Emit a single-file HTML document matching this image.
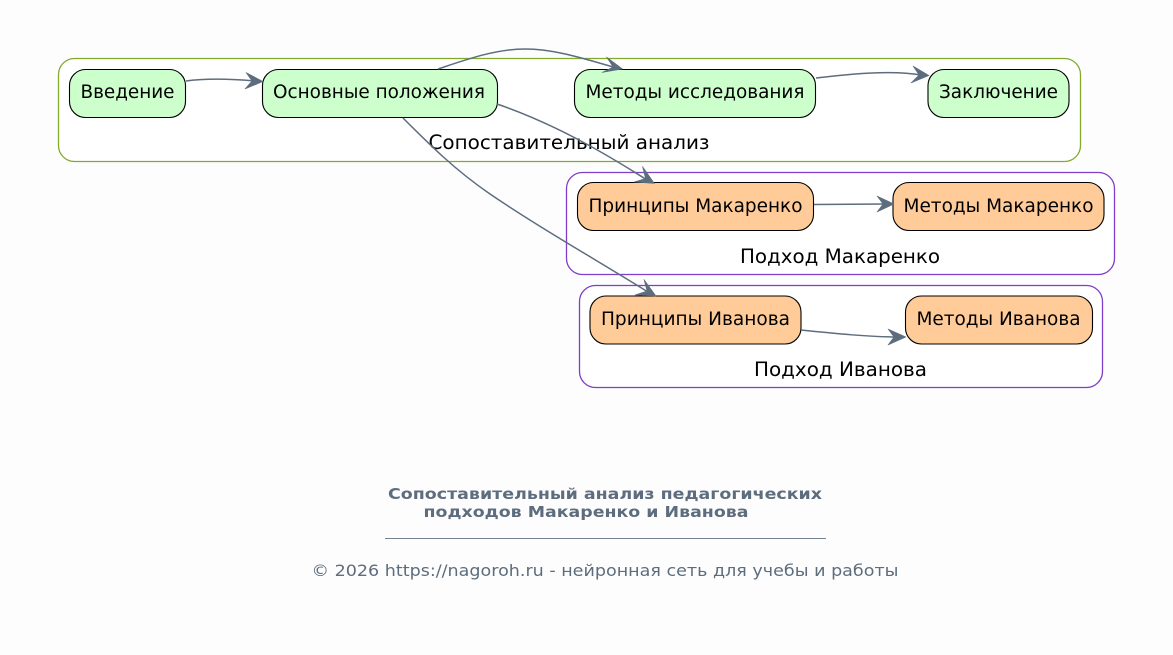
<!DOCTYPE html>
<html><head><meta charset="utf-8"><style>
html,body{margin:0;padding:0;background:#fdfdfd;overflow:hidden;}
svg{display:block;}
text{font-family:"DejaVu Sans","Liberation Sans",sans-serif;}
.n{font-size:18.200px;fill:#000;}
.c{font-size:19.200px;fill:#000;}
.e{fill:none;stroke:#5d6d7e;stroke-width:1.500;}
.a{fill:#5d6d7e;stroke:#5d6d7e;stroke-width:0.600;stroke-linejoin:round;}
</style></head><body>
<svg width="1173" height="655" viewBox="0 0 1173 655" xmlns="http://www.w3.org/2000/svg">
<rect width="1173" height="655" fill="#fdfdfd"/>
<rect x="58.500" y="58.500" width="1022" height="103" rx="16" fill="#fff" stroke="#82ab2e" stroke-width="1.300"/>
<rect x="566.500" y="172.500" width="548" height="102" rx="16" fill="#fff" stroke="#7c3fc9" stroke-width="1.300"/>
<rect x="579.500" y="285.500" width="523" height="102" rx="16" fill="#fff" stroke="#7c3fc9" stroke-width="1.300"/>
<text class="c" x="569" y="149" text-anchor="middle" textLength="281" lengthAdjust="spacingAndGlyphs">Сопоставительный анализ</text>
<text class="c" x="840" y="263" text-anchor="middle" textLength="200" lengthAdjust="spacingAndGlyphs">Подход Макаренко</text>
<text class="c" x="840.500" y="376" text-anchor="middle" textLength="173" lengthAdjust="spacingAndGlyphs">Подход Иванова</text>

<g fill="#ccffcc" stroke="#000" stroke-width="1.100">
<rect x="69.500" y="69.500" width="116" height="48" rx="16"/>
<rect x="262.500" y="69.500" width="235" height="48" rx="16"/>
<rect x="574.500" y="69.500" width="241" height="48" rx="16"/>
<rect x="928" y="69.500" width="141" height="48" rx="16"/>
</g>
<g fill="#ffcc99" stroke="#000" stroke-width="1.100">
<rect x="577.500" y="182.500" width="236" height="48" rx="16"/>
<rect x="893" y="182.500" width="211" height="48" rx="16"/>
<rect x="590" y="296" width="211" height="48" rx="16"/>
<rect x="905.500" y="296" width="187" height="48" rx="16"/>
</g>
<text class="n" x="127.500" y="98" text-anchor="middle" textLength="94" lengthAdjust="spacingAndGlyphs">Введение</text>
<text class="n" x="379" y="98" text-anchor="middle" textLength="212" lengthAdjust="spacingAndGlyphs">Основные положения</text>
<text class="n" x="695" y="98" text-anchor="middle" textLength="219" lengthAdjust="spacingAndGlyphs">Методы исследования</text>
<text class="n" x="998.500" y="98" text-anchor="middle" textLength="119" lengthAdjust="spacingAndGlyphs">Заключение</text>
<text class="n" x="695.500" y="212" text-anchor="middle" textLength="214" lengthAdjust="spacingAndGlyphs">Принципы Макаренко</text>
<text class="n" x="998.500" y="212" text-anchor="middle" textLength="190" lengthAdjust="spacingAndGlyphs">Методы Макаренко</text>
<text class="n" x="695.500" y="325" text-anchor="middle" textLength="189" lengthAdjust="spacingAndGlyphs">Принципы Иванова</text>
<text class="n" x="998.500" y="325" text-anchor="middle" textLength="164" lengthAdjust="spacingAndGlyphs">Методы Иванова</text>

<path class="e" d="M186 81 C208 78 232 79 255 81"/>
<path class="e" d="M438 69 C465 60 495 49 525 49 C555 49 585 59 615 67.500"/>
<path class="e" d="M497 104 C550 122 600 150 647 180"/>
<path class="e" d="M403 118 C430 145 455 170 490 194 C540 228 600 262 648 292"/>
<path class="e" d="M816 78 C850 74 890 70 921 75"/>
<path class="e" d="M814 204.500 L885 204"/>
<path class="e" d="M801 330 C835 333.500 870 337 897 337"/>
<g class="a">
<path d="M263 81.500 L246 72.500 L252 81 L245 89 Z"/>
<path d="M622.500 69 L606.500 57 L613 67 L602 72.500 Z"/>
<path d="M654.500 183.500 L642.500 166.500 L645.500 178.500 L634 182 Z"/>
<path d="M656 296 L644 279.500 L647 291 L635 295 Z"/>
<path d="M929 75.500 L913 66 L919 75 L911 83 Z"/>
<path d="M894 204 L877 196 L883 204 L877 212 Z"/>
<path d="M906 337 L888 329 L894 337 L888 345 Z"/>
</g>

<text x="605" y="499" text-anchor="middle" font-size="15.500" font-weight="bold" fill="#5d6d7e" textLength="434" lengthAdjust="spacingAndGlyphs">Сопоставительный анализ педагогических</text>
<text x="586" y="517" text-anchor="middle" font-size="15.500" font-weight="bold" fill="#5d6d7e" textLength="325" lengthAdjust="spacingAndGlyphs">подходов Макаренко и Иванова</text>
<rect x="385" y="538" width="441" height="1" fill="#75828f"/>
<text x="605" y="576" text-anchor="middle" font-size="16" fill="#5d6d7e" textLength="587" lengthAdjust="spacingAndGlyphs">© 2026 https://nagoroh.ru - нейронная сеть для учебы и работы</text>
</svg>
</body></html>
